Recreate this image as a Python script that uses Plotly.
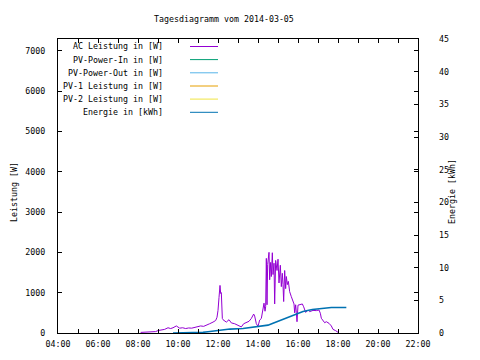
import plotly.graph_objects as go

DAY = "2014-03-05 "

# AC Leistung in [W]
ac_time = ["08:08", "08:20", "08:35", "08:45", "08:53", "09:00", "09:11", "09:20", "09:30", "09:38",
           "09:45", "09:55", "10:05", "10:14", "10:23", "10:32", "10:41", "10:50", "10:59", "11:08",
           "11:17", "11:26", "11:35", "11:45", "11:53", "11:57", "12:00", "12:03", "12:06", "12:08",
           "12:10", "12:13", "12:15", "12:25", "12:33", "12:40", "12:50", "13:00", "13:10", "13:17",
           "13:25", "13:33", "13:40", "13:47", "13:50", "13:55", "14:00", "14:05", "14:10", "14:15",
           "14:18", "14:21", "14:23", "14:25", "14:27", "14:29", "14:33", "14:35", "14:38", "14:40",
           "14:43", "14:45", "14:48", "14:50", "14:53", "14:57", "15:00", "15:03", "15:05", "15:07",
           "15:10", "15:13", "15:15", "15:17", "15:20", "15:23", "15:25", "15:28", "15:31", "15:33",
           "15:35", "15:40", "15:45", "15:48", "15:50", "15:53", "15:55", "15:57", "16:00", "16:05",
           "16:13", "16:17", "16:23", "16:30", "16:35", "16:45", "16:55", "17:03", "17:07", "17:10",
           "17:15", "17:20", "17:25", "17:33", "17:40", "17:45", "17:53", "18:00", "18:03"]
ac_power = [15, 20, 25, 40, 35, 60, 70, 90, 130, 110,
            130, 175, 120, 130, 110, 125, 120, 140, 160, 175,
            165, 190, 230, 270, 310, 390, 560, 880, 1180, 980,
            1000, 360, 330, 270, 330, 250, 230, 190, 150, 230,
            270, 290, 360, 470, 420, 230, 165, 320, 360, 570,
            740, 540, 650, 1850, 700, 1700, 2000, 1320, 1750, 1400,
            1990, 1450, 1730, 720, 1800, 1550, 1830, 1240, 1500, 1680,
            1150, 1480, 1200, 780, 1550, 1100, 1400, 1200, 1280, 1066,
            1025, 900, 777, 720, 500, 700, 500, 280, 690, 700,
            720, 650, 510, 570, 530, 560, 555, 570, 490, 365,
            305, 255, 280, 240, 175, 90, 58, 8, 0]

# Not recorded on this day
pv_in_time, pv_in_power = [], []
pv_out_time, pv_out_power = [], []
pv1_time, pv1_power = [], []
pv2_time, pv2_power = [], []

# Energie in [kWh]
energy_time = ["09:45", "10:30", "11:15", "11:30", "11:45", "12:15", "12:36", "13:15", "13:45", "14:15",
               "14:30", "14:45", "15:00", "15:15", "15:30", "15:45", "16:00", "16:15", "16:43", "17:40", "18:25"]
energy_kwh = [0.0, 0.0, 0.1, 0.2, 0.3, 0.4, 0.6, 0.7, 0.9, 1.0,
              1.2, 1.5, 1.8, 2.1, 2.4, 2.7, 3.0, 3.3, 3.6, 3.9, 3.9]

hour_ticks = list(range(4, 23))
tick_vals = [DAY + "%02d:00" % h for h in hour_ticks]
tick_text = ["%02d:00" % h if h % 2 == 0 else "" for h in hour_ticks]
y_ticks = list(range(0, 7001, 1000))
y2_ticks = list(range(0, 46, 5))

series = [
    ("AC Leistung in [W]", "#9400D3", ac_time, ac_power, "y", 1),
    ("PV-Power-In in [W]", "#009E73", pv_in_time, pv_in_power, "y", 1),
    ("PV-Power-Out in [W]", "#56B4E9", pv_out_time, pv_out_power, "y", 1),
    ("PV-1 Leistung in [W]", "#E69F00", pv1_time, pv1_power, "y", 1),
    ("PV-2 Leistung in [W]", "#F0E442", pv2_time, pv2_power, "y", 1),
    ("Energie in [kWh]", "#0072B2", energy_time, energy_kwh, "y2", 1.6),
]

FONT = dict(family="DejaVu Sans Mono", size=8.3, color="black")

fig = go.Figure()
for name, color, t, v, ax, w in series:
    fig.add_trace(go.Scatter(x=[DAY + s for s in t], y=v, name=name, mode="lines",
                             line=dict(color=color, width=w), yaxis=ax, showlegend=False))

# legend (gnuplot style: right-aligned text, sample line at right)
W, H = 360.0, 294.0
def px_x(x):
    return (x - 58.0) / W
def px_y(y):
    return (333.0 - y) / H

rows = [46.5, 59.6, 72.8, 86.0, 99.1, 112.3]
for (name, color, *_), ry in zip(series, rows):
    fig.add_annotation(x=px_x(165), y=px_y(ry), xref="paper", yref="paper", text=name,
                       showarrow=False, xanchor="right", yanchor="middle", font=FONT)
    fig.add_shape(type="line", xref="paper", yref="paper", x0=px_x(190), x1=px_x(218),
                  y0=px_y(ry), y1=px_y(ry), line=dict(color=color, width=1))

fig.add_annotation(x=px_x(223.5), y=px_y(18.5), xref="paper", yref="paper",
                   text="Tagesdiagramm vom 2014-03-05", showarrow=False,
                   xanchor="center", yanchor="middle", font=FONT)
fig.add_annotation(x=px_x(14), y=px_y(192), xref="paper", yref="paper", text="Leistung [W]",
                   showarrow=False, textangle=-90, xanchor="center", yanchor="middle", font=FONT)
fig.add_annotation(x=px_x(452), y=px_y(192), xref="paper", yref="paper", text="Energie [kWh]",
                   showarrow=False, textangle=-90, xanchor="center", yanchor="middle", font=FONT)

# page body has an 8px margin, so the figure is offset by 8px; compensate in margins
fig.update_layout(
    width=480, height=360,
    margin=dict(l=50, r=70, t=31, b=35, pad=0),
    paper_bgcolor="white", plot_bgcolor="white",
    font=FONT,
    xaxis=dict(type="date", range=[DAY + "04:00", DAY + "22:00"], tickvals=tick_vals,
               ticktext=tick_text, ticks="inside", ticklen=4, tickcolor="black",
               showline=True, linecolor="black", linewidth=1, mirror="ticks",
               showgrid=False, zeroline=False, tickfont=FONT, ticklabelstandoff=3,
               automargin=False),
    yaxis=dict(range=[0, 7290], tickvals=y_ticks, ticks="inside", ticklen=4, tickcolor="black",
               showline=True, linecolor="black", linewidth=1, mirror="ticks",
               showgrid=False, zeroline=False, tickfont=FONT, ticklabelstandoff=10,
               automargin=False),
    yaxis2=dict(range=[0, 45], tickvals=y2_ticks, overlaying="y", side="right",
                ticks="inside", ticklen=4, tickcolor="black", showline=False,
                showgrid=False, zeroline=False, tickfont=FONT, ticklabelstandoff=20,
                automargin=False),
)

fig.write_html("out.html")
